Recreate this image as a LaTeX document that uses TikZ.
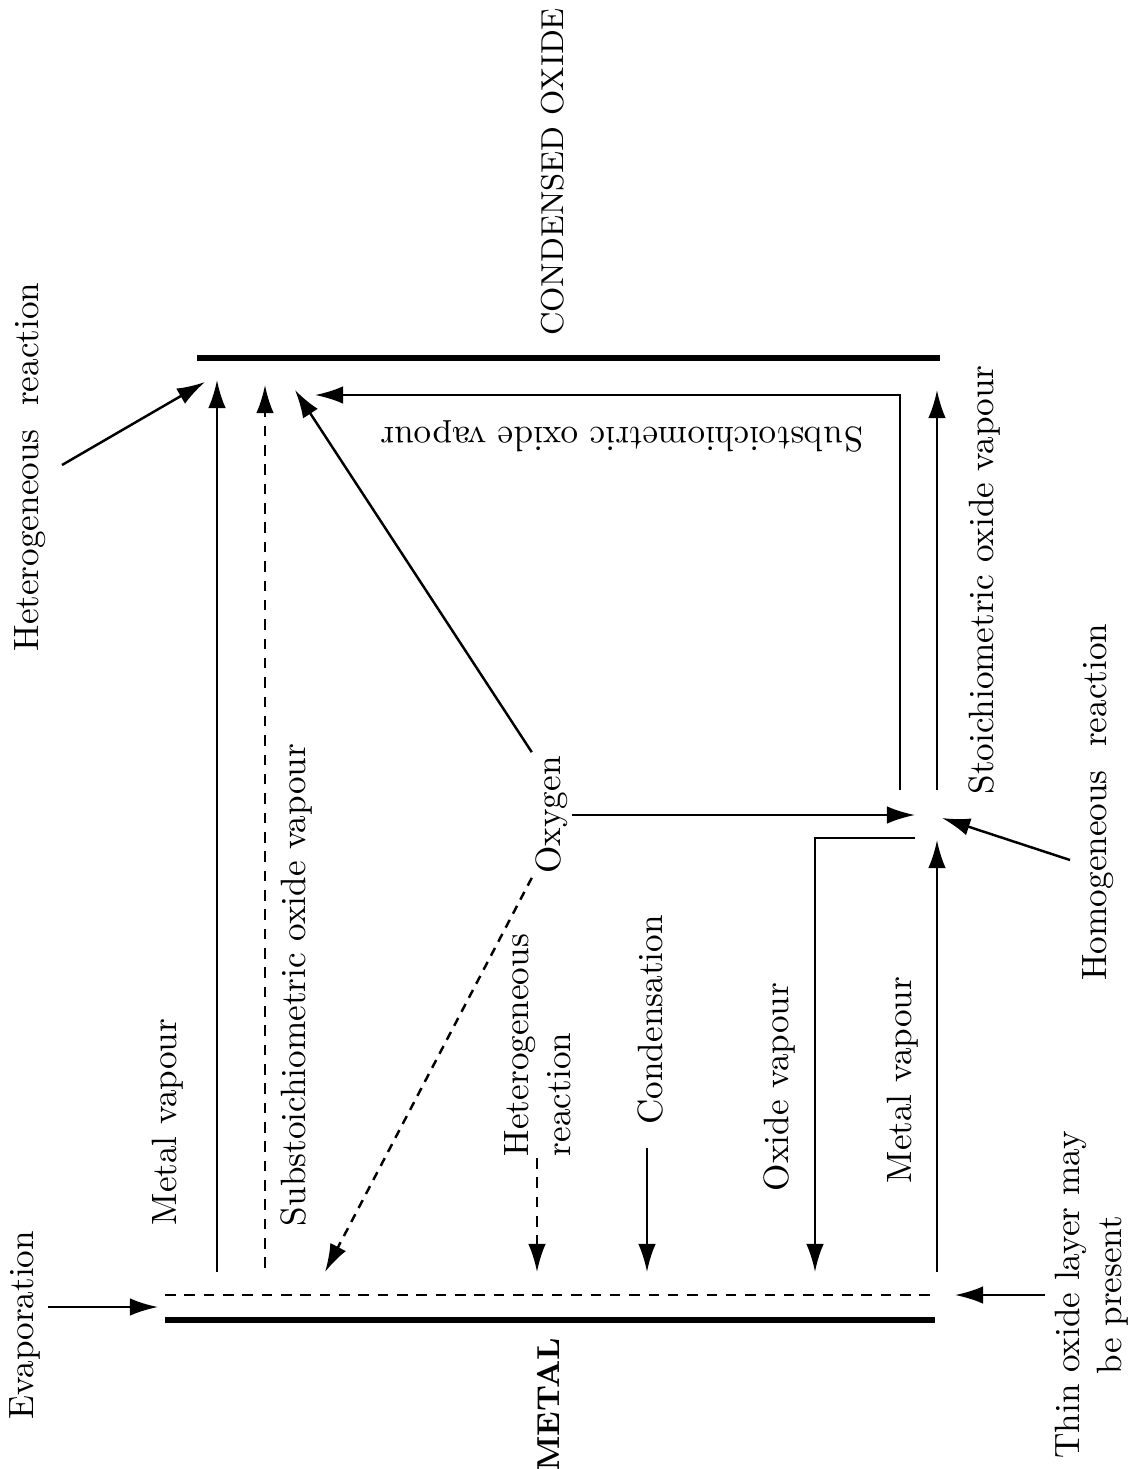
\documentclass[tikz,border=0pt]{standalone}
\usetikzlibrary{arrows.meta}

\begin{document}
\begin{tikzpicture}[x=0.01cm, y=-0.01cm,
  lbl/.style={inner sep=1pt, font=\normalsize},
  vlbl/.style={lbl, rotate=90},
  arr/.style={line width=0.7pt, -{Latex[length=8pt,width=5pt]}},
  darr/.style={arr, dash pattern=on 3pt off 2.5pt},
  surface/.style={line width=1.6pt},
  layer/.style={line width=0.7pt, dash pattern=on 3pt off 2.5pt}
]
  \useasboundingbox (0,0) rectangle (1135,1469);

  % surfaces
  \coordinate (oxL) at (197,358);
  \coordinate (oxR) at (940,358);
  \coordinate (meL) at (165,1320);
  \coordinate (meR) at (935,1320);
  \coordinate (lyL) at (165,1295);
  \coordinate (lyR) at (935,1295);
  \draw[surface] (oxL) -- (oxR);
  \draw[surface] (meL) -- (meR);
  \draw[layer]   (lyL) -- (lyR);

  \node[vlbl, font=\small]          (condox) at (553,172)  {CONDENSED OXIDE};
  \node[vlbl, font=\small\bfseries] (metal)  at (548,1405) {METAL};

  % outside labels
  \node[vlbl] (evap)  at (25,1325) {Evaporation};
  \node[vlbl, align=center] (thin) at (1092,1295) {Thin oxide layer may\\be present};
  \node[vlbl] (hettop) at (30,467)  {Heterogeneous\ \ reaction};
  \node[vlbl] (homlbl) at (1098,802) {Homogeneous\ \ reaction};

  \coordinate (evapA) at (48,1307);
  \coordinate (evapB) at (158,1307);
  \coordinate (thinA) at (1045,1295);
  \coordinate (thinB) at (955,1295);
  \coordinate (hetA)  at (62,465);
  \coordinate (hetB)  at (205,382);
  \coordinate (homA)  at (1070,860);
  \coordinate (homB)  at (942,818);
  \draw[arr] (evapA) -- (evapB);
  \draw[arr] (thinA) -- (thinB);
  \draw[arr] (hetA)  -- (hetB);
  \draw[arr] (homA)  -- (homB);

  % left flows to the oxide
  \node[vlbl] (mvl)  at (168,1122) {Metal vapour};
  \node[vlbl] (subl) at (297,985)  {Substoichiometric oxide vapour};
  \coordinate (mvlA) at (217,1272);
  \coordinate (mvlB) at (217,380);
  \coordinate (sublA) at (265,1268);
  \coordinate (sublB) at (265,385);
  \draw[arr]  (mvlA)  -- (mvlB);
  \draw[darr] (sublA) -- (sublB);

  % oxygen
  \node[vlbl] (oxy) at (552,815) {Oxygen};
  \coordinate (oxyT)  at (295,390);
  \coordinate (oxyM)  at (325,1272);
  \coordinate (homW)  at (915,815);
  \draw[arr]  (oxy.north east) -- (oxyT);
  \draw[darr, dash pattern=on 2.5pt off 2pt] (oxy.north west) -- (oxyM);
  \draw[arr]  (oxy.south) -- (homW);

  % right flows from the homogeneous reaction
  \node[lbl, rotate=180] (subr) at (622,436) {Substoichiometric oxide vapour};
  \node[vlbl] (stoi) at (985,580) {Stoichiometric oxide vapour};
  \coordinate (subrA) at (900,790);
  \coordinate (subrB) at (315,395);
  \coordinate (stoiA) at (937,790);
  \coordinate (stoiB) at (937,390);
  \draw[arr] (subrA) |- (subrB);
  \draw[arr] (stoiA) -- (stoiB);

  % flows at the metal surface
  \node[vlbl, align=left] (hetl) at (538,1045) {Heterogeneous\\reaction};
  \node[vlbl] (cond) at (650,1020) {Condensation};
  \node[vlbl] (oxv)  at (780,1087) {Oxide vapour};
  \node[vlbl] (mvr)  at (903,1080) {Metal vapour};
  \coordinate (hetlA) at (537,1158);
  \coordinate (hetlB) at (537,1272);
  \coordinate (condA) at (647,1148);
  \coordinate (condB) at (647,1272);
  \coordinate (oxvA)  at (915,838);
  \coordinate (oxvB)  at (815,1272);
  \coordinate (mvrA)  at (937,1272);
  \coordinate (mvrB)  at (937,840);
  \draw[darr] (hetlA) -- (hetlB);
  \draw[arr]  (condA) -- (condB);
  \draw[arr]  (oxvA) -| (oxvB);
  \draw[arr]  (mvrA) -- (mvrB);
\end{tikzpicture}
\end{document}
